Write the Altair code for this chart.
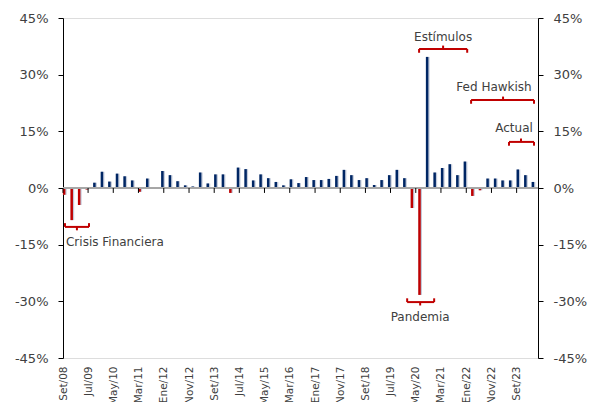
import altair as alt
import pandas as pd

# Quarterly growth (% annualised), 2008Q3 .. 2024Q1
growth = [-1.8, -8.5, -4.5, -0.4, 1.4, 4.3, 1.7, 3.8, 3.1, 2.0,
          -1.0, 2.5, -0.1, 4.5, 3.4, 1.8, 0.7, 0.4, 4.1, 1.2,
          3.6, 3.6, -1.3, 5.4, 5.0, 2.0, 3.6, 2.6, 1.6, 0.7,
          2.3, 1.3, 2.9, 2.1, 2.1, 2.4, 3.2, 4.8, 3.4, 2.1,
          2.6, 0.8, 2.1, 3.4, 4.8, 2.6, -5.3, -28.3, 34.7, 4.1,
          5.3, 6.3, 3.4, 7.0, -2.1, -0.6, 2.5, 2.5, 2.0, 2.0,
          4.9, 3.4, 1.6]

month_names = ["Ene", "Feb", "Mar", "Abr", "May", "Jun",
               "Jul", "Ago", "Set", "Oct", "Nov", "Dic"]
y_ticks = [-45, -30, -15, 0, 15, 30, 45]

# Annotations
ann_labels = ["Crisis Financiera", "Pandemia", "Estímulos", "Fed Hawkish", "Actual"]
ann_start = ["2008-09-25", "2020-01-18", "2020-06-10", "2022-02-28", "2023-06-01"]
ann_end = ["2009-07-12", "2020-12-09", "2022-01-12", "2024-03-29", "2024-03-29"]
ann_mid = ["2009-02-16", "2020-06-23", "2021-03-27", "2023-03-21", "2023-10-24"]
ann_y = [-10.3, -30.2, 36.8, 23.3, 12.2]
ann_dir = [-1, -1, 1, 1, 1]
ann_text_x = ["2008-10-07", "2020-06-23", "2021-03-27", "2022-12-02", "2023-08-01"]
ann_text_y = [-14.3, -34.1, 40.0, 26.7, 15.9]
ann_align = ["left", "center", "center", "center", "center"]

NAVY = "#002664"
RED = "#C00000"
SHADE = "#c3cbdb"
TXT = "#404040"
FONT = "DejaVu Sans"

def ts(s):
    return s + "T00:00:00"

dates = pd.date_range("2008-09-01", periods=len(growth), freq="3MS") + pd.Timedelta(days=14)
bars = pd.DataFrame({"date": [d.strftime("%Y-%m-%dT00:00:00") for d in dates], "g": growth})

tick_dates = pd.date_range("2008-09-01", periods=19, freq="10MS")
ticks = pd.DataFrame({"date": [d.strftime("%Y-%m-%dT00:00:00") for d in tick_dates]})
tick_values = [alt.DateTime(year=d.year, month=d.month, date=d.day) for d in tick_dates]

seg_rows = []
HOOK, MID = 1.0, 0.9
for s, e, m, y, d in zip(ann_start, ann_end, ann_mid, ann_y, ann_dir):
    seg_rows.append({"x": ts(s), "x2": ts(e), "y": y, "y2": y})
    seg_rows.append({"x": ts(s), "x2": ts(s), "y": y, "y2": y - d * HOOK})
    seg_rows.append({"x": ts(e), "x2": ts(e), "y": y, "y2": y - d * HOOK})
    seg_rows.append({"x": ts(m), "x2": ts(m), "y": y, "y2": y + d * MID})
segs = pd.DataFrame(seg_rows)

texts = pd.DataFrame({"label": ann_labels, "x": [ts(v) for v in ann_text_x],
                      "y": ann_text_y, "align": ann_align})

xscale = alt.Scale(domain=[alt.DateTime(year=2008, month=9, date=1),
                           alt.DateTime(year=2024, month=5, date=16)],
                   padding=0, nice=False)
yscale = alt.Scale(domain=[-45, 45], nice=False, zero=False)

label_expr = ("['" + "','".join(month_names) + "'][month(datum.value)] + '/' + timeFormat(datum.value, '%y')")

x_axis = alt.Axis(values=tick_values, labelExpr=label_expr, ticks=False, domain=False,
                  grid=False, title=None, labelAngle=270, labelPadding=8,
                  labelFont=FONT, labelFontSize=10.5, labelColor=TXT,
                  labelOverlap=False, labelSeparation=0, labelFlush=False)

def y_axis(orient):
    return alt.Axis(values=y_ticks, labelExpr="datum.value + '%'", orient=orient,
                    grid=False, title=None, domainColor="#000000", tickColor="#000000",
                    tickSize=5, labelPadding=10, labelFont=FONT, labelFontSize=13,
                    labelColor=TXT)

def X(field):
    return alt.X(field, scale=xscale, axis=x_axis)

def Y(field):
    return alt.Y(field, scale=yscale, axis=y_axis("left"))

shade = alt.Chart(bars).mark_bar(size=3.5, xOffset=0.75, color=SHADE).encode(
    x=X("date:T"),
    y=Y("g:Q"),
)
main = alt.Chart(bars).mark_bar(size=2.5).encode(
    x=X("date:T"),
    y=Y("g:Q"),
    color=alt.condition(alt.datum.g < 0, alt.value(RED), alt.value(NAVY)),
)
zero = alt.Chart(bars).mark_rule(color="#a6a6a6", strokeWidth=1).encode(
    y=alt.datum(0),
)
xticks = alt.Chart(ticks).mark_rule(color="#000000", strokeWidth=1).encode(
    x=X("date:T"),
    y=alt.datum(0),
    y2=alt.datum(-1.3),
)
brackets = alt.Chart(segs).mark_rule(color=RED, strokeWidth=2).encode(
    x=X("x:T"), x2="x2:T",
    y=Y("y:Q"), y2="y2:Q",
)
txt_center = alt.Chart(texts).transform_filter(alt.datum.align == "center").mark_text(
    font=FONT, fontSize=12, color=TXT, align="center", baseline="middle").encode(
    x=X("x:T"), y=Y("y:Q"), text="label:N")
txt_left = alt.Chart(texts).transform_filter(alt.datum.align == "left").mark_text(
    font=FONT, fontSize=12, color=TXT, align="left", baseline="middle").encode(
    x=X("x:T"), y=Y("y:Q"), text="label:N")

inner = alt.layer(shade, main, zero, xticks, brackets, txt_center, txt_left)

right = alt.Chart(bars).mark_point(opacity=0).encode(
    x=X("date:T"),
    y=alt.Y("g:Q", scale=yscale, axis=y_axis("right")),
)

chart = alt.layer(inner, right).resolve_scale(y="independent").properties(
    width=475, height=340,
    autosize=alt.AutoSizeParams(type="none"),
    padding={"left": 55, "top": 10, "right": 55, "bottom": 44},
).configure_view(strokeWidth=0).configure_axisX(
    labelOverlap=False, labelSeparation=0
).configure(background="white")

chart.save("out.html", embed_options={"renderer": "svg", "actions": False})
